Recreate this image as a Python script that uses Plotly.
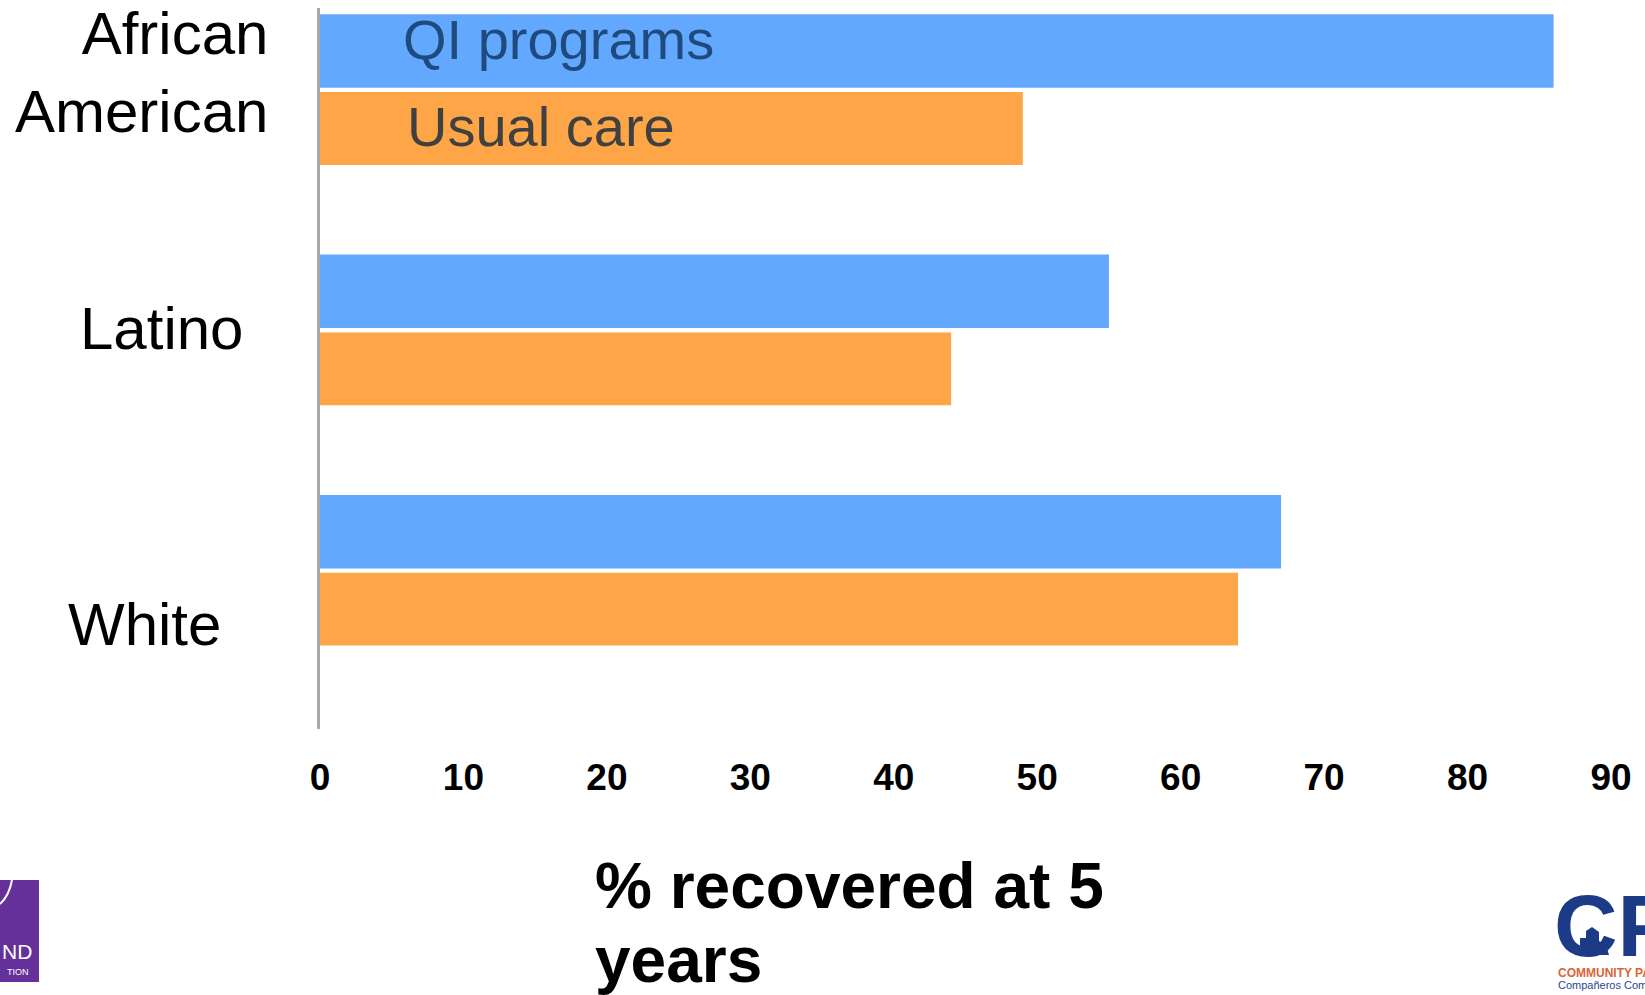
import plotly.graph_objects as go

# Recovery rates (%) at 5 years by group
groups = ["White", "Latino", "African American"]
qi_programs = [67, 55, 86]
usual_care = [64, 44, 49]
x_ticks = [0, 10, 20, 30, 40, 50, 60, 70, 80, 90]

W, H = 1645, 995
M_L, M_R, M_T, M_B = 320, 0, 8, 266
PLOT_W = W - M_L - M_R
PLOT_H = H - M_T - M_B


def px(xpix):
    """Pixel column -> paper x."""
    return (xpix - M_L) / PLOT_W


def py(ypix):
    """Pixel row -> paper y."""
    return (H - M_B - ypix) / PLOT_H


BLUE = "#62a8fe"
ORANGE = "#fea647"

fig = go.Figure()
fig.add_trace(go.Bar(
    y=groups, x=qi_programs, orientation="h", name="QI programs",
    marker=dict(color=BLUE, line=dict(width=0)),
    width=0.306, offset=0.168, hoverinfo="x+y",
))
fig.add_trace(go.Bar(
    y=groups, x=usual_care, orientation="h", name="Usual care",
    marker=dict(color=ORANGE, line=dict(width=0)),
    width=0.303, offset=-0.153, hoverinfo="x+y",
))

annotations = []

# Group labels
label_font = dict(family="Liberation Sans, Arial, sans-serif", size=60, color="black")
annotations.append(dict(text="African<br>American", x=px(270), y=py(73),
                        xanchor="right", yanchor="middle", align="right",
                        font=label_font))
annotations.append(dict(text="Latino", x=px(161), y=py(328),
                        xanchor="center", yanchor="middle", font=label_font))
annotations.append(dict(text="White", x=px(144), y=py(624),
                        xanchor="center", yanchor="middle", font=label_font))

# In-bar series labels
series_font = "Liberation Sans, Arial, sans-serif"
annotations.append(dict(text="QI programs", x=px(401), y=py(40),
                        xanchor="left", yanchor="middle",
                        font=dict(family=series_font, size=56, color="#1f4a7e")))
annotations.append(dict(text="Usual care", x=px(405), y=py(126),
                        xanchor="left", yanchor="middle",
                        font=dict(family=series_font, size=56, color="#404040")))

# Axis title (two lines)
title_font = dict(family="Liberation Sans, Arial, sans-serif", size=64, color="black")
annotations.append(dict(text="<b>% recovered at 5</b>", x=px(593), y=py(886),
                        xanchor="left", yanchor="middle", font=title_font))
annotations.append(dict(text="<b>years</b>", x=px(593), y=py(960),
                        xanchor="left", yanchor="middle", font=title_font))

# Logo marks in the bottom corners
annotations.append(dict(text="ND", x=px(34), y=py(952), xanchor="right", yanchor="middle",
                        font=dict(family="Liberation Sans, Arial", size=21, color="white")))
annotations.append(dict(text="TION", x=px(31), y=py(972), xanchor="right", yanchor="middle",
                        font=dict(family="Liberation Sans, Arial", size=9, color="white")))
annotations.append(dict(text="<b>CP</b>", x=px(1552), y=py(926), xanchor="left", yanchor="middle",
                        font=dict(family="Liberation Sans, Arial", size=88, color="#1d3a86")))
annotations.append(dict(text="<b>COMMUNITY PARTNERS</b>", x=px(1556), y=py(973),
                        xanchor="left", yanchor="middle",
                        font=dict(family="Liberation Sans, Arial", size=12, color="#d9653a")))
annotations.append(dict(text="Compañeros Comunitarios", x=px(1556), y=py(985),
                        xanchor="left", yanchor="middle",
                        font=dict(family="Liberation Sans, Arial", size=11, color="#2a4690")))

for a in annotations:
    a.update(xref="paper", yref="paper", showarrow=False)

shapes = [
    dict(type="rect", xref="paper", yref="paper",
         x0=px(0), x1=px(39), y0=py(880), y1=py(982),
         fillcolor="#66309a", line=dict(width=0), layer="above"),
    dict(type="path", xref="paper", yref="paper",
         path=f"M {px(0)},{py(904)} Q {px(9)},{py(896)} {px(12)},{py(880)}",
         line=dict(color="white", width=2), layer="above"),
    dict(type="path", xref="paper", yref="paper",
         path=(f"M {px(1580)},{py(955)} L {px(1580)},{py(938)} L {px(1586)},{py(938)} "
               f"L {px(1586)},{py(931)} L {px(1592)},{py(927)} L {px(1599)},{py(932)} "
               f"L {px(1599)},{py(941)} L {px(1606)},{py(945)} L {px(1609)},{py(955)} Z"),
         fillcolor="#1d3a86", line=dict(width=0), layer="above"),
]

fig.update_layout(
    width=W, height=H,
    margin=dict(l=M_L, r=M_R, t=M_T, b=M_B, pad=0),
    plot_bgcolor="white", paper_bgcolor="white",
    barmode="overlay", showlegend=False,
    annotations=annotations, shapes=shapes,
    xaxis=dict(
        range=[0, PLOT_W / 14.344], tickvals=x_ticks,
        ticktext=[str(v) for v in x_ticks],
        showgrid=False, zeroline=False, showline=False,
        ticks="", ticklabelstandoff=23,
        tickfont=dict(family="Liberation Sans Narrow, Liberation Sans, Arial", size=37,
                      color="black", weight="bold"),
    ),
    yaxis=dict(
        type="category", categoryorder="array", categoryarray=groups,
        range=[-0.5, 2.5], showticklabels=False, ticks="",
        showgrid=False, zeroline=False,
        showline=True, linecolor="#a9a9a9", linewidth=3,
    ),
)

fig.write_html("out.html", config={"displayModeBar": False})
